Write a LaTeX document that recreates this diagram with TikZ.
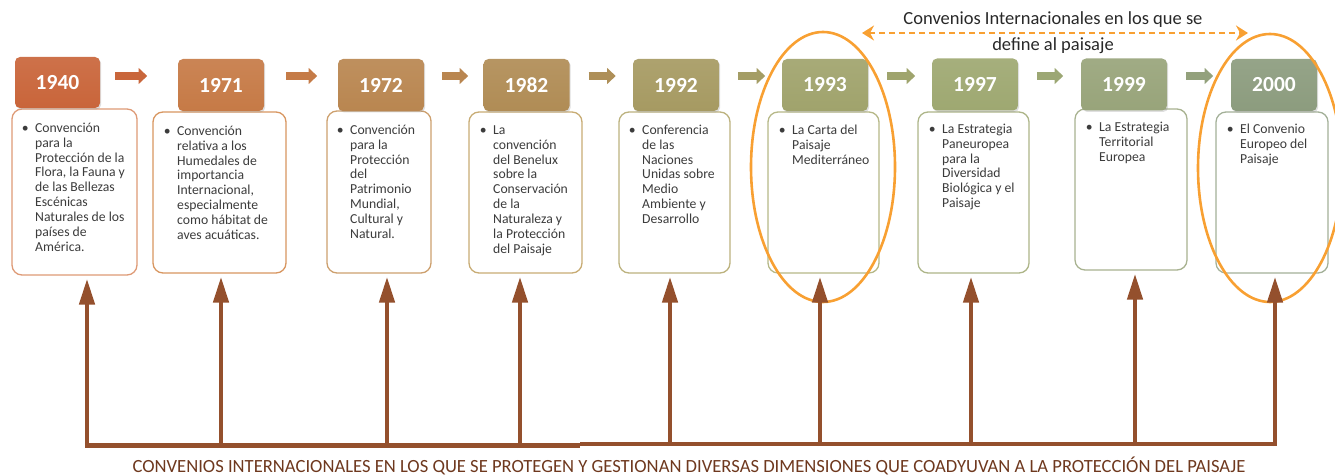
\documentclass[tikz,border=0pt]{standalone}
\usepackage{fontspec}
\setmainfont{Carlito}
\usetikzlibrary{arrows.meta,shadows,calc}
\definecolor{ya}{HTML}{C9653A}
\definecolor{yb}{HTML}{C67A46}
\definecolor{yc}{HTML}{B98650}
\definecolor{yd}{HTML}{B08C55}
\definecolor{ye}{HTML}{A69A62}
\definecolor{yf}{HTML}{A0A36C}
\definecolor{yg}{HTML}{9EA871}
\definecolor{yh}{HTML}{98A47A}
\definecolor{yi}{HTML}{8C9C7E}
\definecolor{ba}{HTML}{DE9A76}
\definecolor{bb}{HTML}{D89660}
\definecolor{bc}{HTML}{CDA06E}
\definecolor{bd}{HTML}{C8AC74}
\definecolor{be}{HTML}{BCB27E}
\definecolor{bf}{HTML}{B6B887}
\definecolor{bg}{HTML}{ADB588}
\definecolor{bh}{HTML}{A8B290}
\definecolor{bi}{HTML}{A3B098}
\definecolor{busc}{HTML}{94502D}
\definecolor{btext}{HTML}{6E381E}
\definecolor{orng}{HTML}{F8A032}
\definecolor{txtgray}{HTML}{3C3C3C}
\definecolor{toptxt}{HTML}{282828}
\newcommand{\bl}{\rule{0pt}{10pt}\llap{\textbullet\hspace{6.5pt}}}
\begin{document}
\begin{tikzpicture}[x=1pt,y=-1pt,
  yearbox/.style={rounded corners=5pt, minimum width=86pt, minimum height=52pt, inner sep=0pt,
    text=white, font=\fontsize{21.5}{24}\selectfont\bfseries,
    top color=#1!92!white, bottom color=#1,
    drop shadow={opacity=0.25, shadow xshift=1.2pt, shadow yshift=-1.5pt}},
  descbox/.style={draw=#1, rounded corners=10pt, line width=1.3pt, fill=white, inner sep=0pt},
  desctext/.style={anchor=north west, inner sep=0pt, align=left, text=txtgray,
    font=\fontsize{13.7}{14.9}\selectfont},
  stepar/.style={draw=#1, line width=8.5pt, -{Triangle[length=8.5pt,width=15.5pt]}},
  uparrow/.style={draw=busc, line width=4.5pt, -{Triangle[length=26pt,width=15pt]}, shorten >=3pt},
  busline/.style={draw=busc, line width=4.5pt},
  dashar/.style={draw=orng, line width=2.6pt, dash pattern=on 6pt off 4pt,
    {Stealth[length=12pt,width=15pt,inset=4pt]}-{Stealth[length=12pt,width=15pt,inset=4pt]}},
  oval/.style={draw=orng, line width=2.6pt},
  toptext/.style={anchor=base, inner sep=0pt, text=toptxt, font=\fontsize{18.5}{22}\selectfont},
  bottomtext/.style={anchor=base, inner sep=0pt, text=btext, font=\fontsize{18.6}{22}\selectfont}
]
\useasboundingbox (0,0) rectangle (1335,476);

% description boxes
\node[descbox=ba, minimum width=125pt, minimum height=166pt] (d1940) at (74.5,192) {};
\node[descbox=bb, minimum width=133pt, minimum height=161pt] (d1971) at (219.5,192.5) {};
\node[descbox=bc, minimum width=104pt, minimum height=162pt] (d1972) at (379,192) {};
\node[descbox=bd, minimum width=113pt, minimum height=161pt] (d1982) at (525.5,192.5) {};
\node[descbox=be, minimum width=111pt, minimum height=161pt] (d1992) at (674.5,192.5) {};
\node[descbox=bf, minimum width=111pt, minimum height=161pt] (d1993) at (823.5,192.5) {};
\node[descbox=bg, minimum width=111pt, minimum height=161pt] (d1997) at (973.5,192.5) {};
\node[descbox=bh, minimum width=112pt, minimum height=161pt] (d1999) at (1131,189.5) {};
\node[descbox=bi, minimum width=112pt, minimum height=161pt] (d2000) at (1272,192.5) {};

% year boxes
\node[yearbox=ya, minimum width=85pt, minimum height=51pt] (y1940) at (57.5,82.5) {1940};
\node[yearbox=yb] (y1971) at (221,85) {1971};
\node[yearbox=yc] (y1972) at (381,85) {1972};
\node[yearbox=yd] (y1982) at (526.5,85) {1982};
\node[yearbox=ye] (y1992) at (676,85) {1992};
\node[yearbox=yf] (y1993) at (825,85) {1993};
\node[yearbox=yg] (y1997) at (975,84.5) {1997};
\node[yearbox=yh] (y1999) at (1124,84.5) {1999};
\node[yearbox=yi] (y2000) at (1274,85) {2000};

% step arrows between years
\draw[stepar=ya!95!yb] ($(y1940.east|-0,76)+(15,0)$) -- ++(32,0);
\draw[stepar=yb!90!yc] ($(y1971.east|-0,76)+(22,0)$) -- ++(31,0);
\draw[stepar=yc] ($(y1972.east|-0,76)+(18,0)$) -- ++(26,0);
\draw[stepar=yd!80!ye] ($(y1982.east|-0,76)+(19,0)$) -- ++(27,0);
\draw[stepar=ye!70!yf] ($(y1992.east|-0,76)+(19,0)$) -- ++(27,0);
\draw[stepar=yf!70!yg] ($(y1993.east|-0,76)+(19,0)$) -- ++(28,0);
\draw[stepar=yg!70!yh] ($(y1997.east|-0,76)+(19,0)$) -- ++(26,0);
\draw[stepar=yh!60!yi] ($(y1999.east|-0,76)+(19,0)$) -- ++(27,0);

% description texts
\node[desctext] (t1940) at (35,122) {\bl Convención\\para la\\Protección de la\\Flora, la Fauna y\\de las Bellezas\\Escénicas\\Naturales de los\\países de\\América.};
\node[desctext] (t1971) at (177,125) {\bl Convención\\relativa a los\\Humedales de\\importancia\\Internacional,\\especialmente\\como hábitat de\\aves acuáticas.};
\node[desctext] (t1972) at (350,124) {\bl Convención\\para la\\Protección\\del\\Patrimonio\\Mundial,\\Cultural y\\Natural.};
\node[desctext] (t1982) at (493,124) {\bl La\\convención\\del Benelux\\sobre la\\Conservación\\de la\\Naturaleza y\\la Protección\\del Paisaje};
\node[desctext] (t1992) at (642,124) {\bl Conferencia\\de las\\Naciones\\Unidas sobre\\Medio\\Ambiente y\\Desarrollo};
\node[desctext] (t1993) at (792,124) {\bl La Carta del\\Paisaje\\Mediterráneo};
\node[desctext] (t1997) at (942,123) {\bl La Estrategia\\Paneuropea\\para la\\Diversidad\\Biológica y el\\Paisaje};
\node[desctext] (t1999) at (1099,121) {\bl La Estrategia\\Territorial\\Europea};
\node[desctext] (t2000) at (1240,123) {\bl El Convenio\\Europeo del\\Paisaje};

% orange ovals
\draw[oval] (823,167) ellipse [x radius=72pt, y radius=135pt];
\draw[oval] (1270,168) ellipse [x radius=72pt, y radius=134pt];

% top label with dashed double arrow
\coordinate (dl) at (862,33);
\coordinate (dr) at (1248,33);
\draw[dashar] (dl) -- (dr);
\node[toptext] (top1) at (1053,25) {Convenios Internacionales en los que se};
\node[toptext] (top2) at (1053,51) {define al paisaje};

% bottom bus and arrows
\coordinate (b1940) at (87,447.7);
\coordinate (b1971) at (221,447.7);
\coordinate (b1972) at (387,447.7);
\coordinate (b1982) at (520,447.7);
\coordinate (b1992) at (670,446.2);
\coordinate (b1993) at (820,446.2);
\coordinate (b1997) at (971,446.2);
\coordinate (b1999) at (1135,446.2);
\coordinate (b2000) at (1275,446.2);
\draw[busline] (84.75,445.5) -- (580,445.5);
\draw[busline] (580,444) -- (1277.25,444);
\foreach \y in {1940,1971,1972,1982,1992,1993,1997,1999,2000}{
  \draw[uparrow] (b\y) -- (b\y |- d\y.south);
}
\node[bottomtext] (bottom) at (689,472.5) {CONVENIOS INTERNACIONALES EN LOS QUE SE PROTEGEN Y GESTIONAN DIVERSAS DIMENSIONES QUE COADYUVAN A LA PROTECCIÓN DEL PAISAJE};
\end{tikzpicture}
\end{document}
